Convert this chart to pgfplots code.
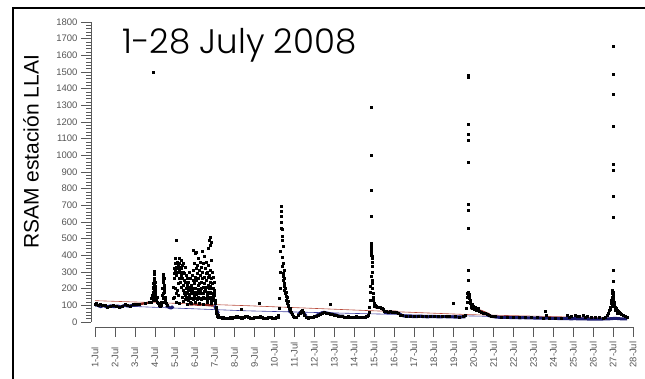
\documentclass[border=0pt]{standalone}
\usepackage{pgfplots}
\pgfplotsset{compat=1.18}
\usepackage{fontspec}
\setmainfont{Liberation Sans}
\newfontfamily\titlefont{Poppins Light}
\definecolor{navyd}{RGB}{25,25,110}
\definecolor{redd}{RGB}{140,35,30}
\definecolor{trendred}{RGB}{185,75,60}
\definecolor{trendblue}{RGB}{60,60,160}
\definecolor{tickgray}{RGB}{85,85,85}
\begin{document}
\begin{tikzpicture}
\path[use as bounding box] (0pt,0pt) rectangle (645pt,379pt);
\draw[line width=2.5pt] (13pt,-2pt) -- (13pt,371pt) -- (648pt,371pt);
\node[anchor=base west, font=\titlefont\fontsize{34}{38}\selectfont, inner sep=0pt] at (122pt,325pt) {1-28 July 2008};
\node[rotate=90, font=\fontsize{21}{24}\selectfont, inner sep=0pt] at (31pt,227pt) {RSAM estación LLAI};
\begin{axis}[
  at={(95pt,57pt)}, anchor=south west, scale only axis,
  width=538pt, height=300pt,
  xmin=0, xmax=27, ymin=0, ymax=1800,
  axis x line=bottom, axis y line=left,
  axis x line shift=5pt, axis y line shift=4pt,
  axis line style={-, black!65, line width=0.5pt},
  tick align=outside, major tick length=10pt, minor tick length=5pt,
  tick style={black!65, line width=0.5pt},
  xtick={0,1,...,27},
  xticklabels={1-Jul,2-Jul,3-Jul,4-Jul,5-Jul,6-Jul,7-Jul,8-Jul,9-Jul,10-Jul,11-Jul,12-Jul,13-Jul,14-Jul,15-Jul,16-Jul,17-Jul,18-Jul,19-Jul,20-Jul,21-Jul,22-Jul,23-Jul,24-Jul,25-Jul,26-Jul,27-Jul,28-Jul},
  xticklabel style={rotate=90, anchor=east, text width=27pt, align=left, font=\fontsize{9.5}{10}\selectfont, text=tickgray},
  ytick={0,100,...,1800}, minor y tick num=4,
  yticklabel style={font=\fontsize{9.5}{10}\selectfont, text=tickgray},
  /pgf/number format/assume math mode=true,
  /pgf/number format/1000 sep={},
  unbounded coords=jump,
  clip=false,
]
% trend lines
\addplot[trendred, line width=0.6pt] coordinates {(0,128) (7.6,98) (16.3,56) (18.85,44) (26.7,22)};
\addplot[trendblue, line width=0.6pt] coordinates {(0,102) (7.6,67) (16.3,42) (26.7,18)};
% navy baseline series
\addplot[navyd, line width=3pt, line join=round] coordinates {
(0.0,98)(0.1,104)(0.2,96)(0.3,92)(0.4,100)(0.5,95)(0.6,90)(0.7,94)(0.8,97)(0.9,93)(1.0,92)(1.1,96)(1.2,94)(1.3,90)(1.4,96)(1.5,100)(1.6,97)(1.7,95)(1.8,98)(1.9,100)(2.0,102)(2.1,101)(2.2,104)(2.3,103)
(2.35,nan)
(3.58,100)(3.65,92)(3.72,88)(3.8,84)(3.86,86)(3.92,95)
(3.95,nan)
(6.0,100)(6.05,85)(6.1,72)(6.15,60)(6.2,50)
(6.25,nan)
(9.7,70)(9.8,62)(9.9,50)
(9.95,nan)
(10.2,45)(10.3,58)(10.4,62)(10.5,50)(10.6,35)
(10.7,nan)
(11.1,38)(11.2,44)(11.3,50)(11.4,56)(11.5,58)(11.6,55)(11.7,52)(11.8,50)(11.9,48)(12.0,45)(12.1,42)(12.2,38)(12.3,35)(12.4,36)(12.5,34)
(12.55,nan)
(14.5,58)(14.7,57)(14.9,58)(15.1,56)(15.25,52)(15.3,48)(15.4,40)(15.5,36)(15.7,34)(15.9,33)(16.1,32)(16.3,34)(16.5,32)(16.7,31)(16.9,33)(17.1,32)(17.3,30)(17.5,32)(17.7,31)(17.9,30)(18.0,30)(18.2,29)(18.4,30)(18.6,32)
(18.65,nan)
(19.7,40)(19.9,34)(20.1,30)(20.3,28)(20.5,27)(20.7,28)(20.9,26)(21.1,27)(21.3,25)(21.5,26)(21.7,24)(21.9,25)(22.1,23)(22.3,24)(22.5,22)(22.7,23)(22.9,21)(23.1,22)(23.3,20)(23.5,21)(23.7,20)(23.9,19)(24.1,20)(24.3,18)(24.5,19)(24.7,18)(24.9,17)(25.1,18)(25.3,17)(25.5,18)(25.7,18)(25.9,20)(26.1,22)(26.3,20)(26.5,18)(26.7,18)
};
% dark red series
\addplot[redd, line width=2.2pt, line join=round] coordinates {
(2.2,106)(2.3,108)(2.4,110)(2.5,112)(2.6,114)(2.7,116)(2.8,118)
(2.85,nan)
(4.6,108)(4.8,105)(5.0,106)(5.2,103)(5.4,105)(5.6,102)(5.8,100)(5.95,98)
(6.0,nan)
(14.05,88)(14.2,86)(14.35,84)(14.45,72)(14.6,63)(14.8,62)(15.0,62)(15.2,60)
(15.25,nan)
(18.85,82)(19.0,78)(19.2,72)(19.4,65)(19.6,55)(19.8,45)
};
% black RSAM points
\addplot[only marks, mark=square*, mark size=1.0pt, black] coordinates {
(0.02,104)(0.08,110)(0.15,100)(0.25,106)(0.35,98)(0.5,102)(0.62,88)(0.75,92)(0.9,98)(1.05,96)(1.2,90)(1.35,94)(1.5,104)(1.62,100)(1.75,96)(1.9,104)(2.05,106)(2.2,108)(2.5,112)(2.7,116)
(2.80,120)(2.84,140)(2.86,160)(2.88,150)(2.90,180)(2.92,200)(2.93,230)(2.94,210)(2.95,190)(2.96,250)(2.97,302)(2.98,288)(2.99,220)(3.00,170)(3.01,200)(3.02,240)(3.03,160)(3.05,140)(3.07,130)(3.10,120)(3.12,150)(3.15,110)(3.20,100)(3.25,96)(3.30,100)(2.93,1500)
(2.91,130)(2.95,145)(2.97,175)(3.00,215)(3.02,185)(3.04,200)(2.99,260)
(3.33,120)(3.36,160)(3.38,200)(3.40,250)(3.42,288)(3.43,270)(3.44,240)(3.45,220)(3.46,200)(3.47,262)(3.48,180)(3.50,150)(3.52,130)(3.55,110)(3.60,100)(3.41,140)(3.43,175)(3.45,150)(3.47,190)(3.44,120)
(3.92,140)(3.93,210)(3.95,260)(3.96,320)(3.98,290)(3.99,150)(4.00,350)(4.02,200)(4.03,310)(4.04,380)(4.06,170)(4.07,330)(4.08,280)(4.10,488)(4.11,300)(4.12,360)(4.14,190)(4.15,320)(4.17,230)(4.18,340)(4.20,160)(4.21,380)(4.22,310)(4.24,260)(4.25,350)(4.27,300)(4.28,240)(4.29,330)(4.31,280)(4.32,370)(4.34,210)(4.35,320)(4.37,150)(4.38,260)(4.39,340)(4.41,300)(4.42,190)(4.44,350)(4.45,220)(4.47,170)(4.48,250)(4.49,290)(4.52,330)(4.54,240)(4.56,180)(4.58,280)(4.60,140)(4.62,220)(4.64,260)(4.66,130)(4.68,190)(4.70,240)(4.72,150)(4.74,300)(4.76,200)(4.78,120)(4.80,260)(4.82,170)(4.84,220)(4.86,140)(4.88,280)(4.90,190)(4.92,250)(4.93,432)(4.94,310)(4.96,160)(4.98,230)(5.00,350)(5.02,270)(5.03,412)(5.04,200)(5.06,320)(5.08,250)(5.10,416)(5.11,180)(5.12,290)(5.14,340)(5.16,382)(5.17,220)(5.18,260)(5.20,150)(5.22,310)(5.24,230)(5.26,360)(5.28,190)(5.30,280)(5.32,240)(5.34,330)(5.36,170)(5.38,422)(5.39,260)(5.40,300)(5.42,210)(5.44,350)(5.46,140)(5.47,392)(5.48,270)(5.50,230)(5.52,320)(5.54,190)(5.56,290)(5.58,250)(5.60,360)(5.62,160)(5.64,300)(5.66,220)(5.68,270)(5.69,442)(5.70,340)(5.72,200)(5.74,492)(5.75,280)(5.76,240)(5.77,462)(5.78,310)(5.80,180)(5.80,506)(5.82,370)(5.84,478)(5.85,260)(5.86,230)(5.88,300)(5.90,200)(5.92,270)(5.94,150)(5.96,240)(5.98,190)(6.00,160)(6.02,130)(6.04,110)(6.06,90)(6.08,70)(6.10,55)(6.12,45)(6.14,35)
(4.05,120)(4.25,110)(4.45,125)(4.65,105)(4.85,115)(5.05,118)(5.25,112)(5.45,108)(5.65,120)(5.85,110)
(4.51,160)(4.55,135)(4.59,200)(4.63,170)(4.67,150)(4.71,210)(4.75,165)(4.79,145)(4.83,190)(4.87,175)(4.91,135)(4.95,205)(4.99,180)(5.01,140)(5.07,165)(5.13,135)(5.19,195)(5.21,175)(5.27,145)(5.31,205)(5.35,135)(5.41,170)(5.43,150)(5.49,185)(5.53,140)(5.57,210)(5.61,130)(5.63,180)(5.67,150)(5.71,170)(5.73,140)(5.79,215)(5.81,150)(5.83,130)(5.87,175)(5.89,145)(5.91,160)(5.93,205)(5.95,130)(5.97,170)
(6.16,30)(6.2,40)(6.3,30)(6.4,22)(6.5,24)(6.6,20)(6.7,24)(6.8,26)(6.9,22)(7.0,28)(7.1,34)(7.2,30)(7.3,26)(7.36,78)(7.4,24)(7.5,30)(7.6,36)(7.7,28)(7.8,24)(7.9,22)(8.0,26)(8.1,30)(8.2,28)(8.25,110)(8.3,32)(8.4,26)(8.5,24)(8.6,22)(8.7,26)(8.8,28)(8.9,24)(9.0,22)(9.1,26)(9.2,30)
(6.45,26)(6.55,22)(6.65,23)(6.75,25)(6.85,24)(6.95,26)(7.05,30)(7.15,32)(7.25,28)(7.35,25)(7.45,27)(7.55,33)(7.65,32)(7.75,26)(7.85,23)(7.95,24)(8.05,28)(8.15,29)(8.35,29)(8.45,25)(8.55,23)(8.65,24)(8.75,27)(8.85,26)(8.95,23)(9.05,24)(9.15,28)
(9.20,40)(9.24,80)(9.26,140)(9.28,200)(9.30,300)(9.31,422)(9.32,560)(9.33,692)(9.34,662)(9.35,632)(9.36,596)(9.37,512)(9.38,556)(9.39,492)(9.40,388)(9.41,332)(9.42,452)(9.43,292)(9.44,272)(9.45,350)(9.46,252)(9.47,310)(9.48,212)(9.49,230)(9.50,192)(9.52,260)(9.54,172)(9.56,200)(9.58,152)(9.60,180)(9.62,132)(9.64,150)(9.66,112)(9.68,125)(9.70,100)(9.72,92)(9.75,85)(9.78,80)(9.82,72)(9.86,60)(9.90,45)(9.95,35)(10.0,30)
(10.1,28)(10.2,40)(10.3,55)(10.35,65)(10.4,72)(10.45,60)(10.5,40)(10.6,28)(10.7,25)(10.8,30)(10.9,28)(11.0,32)(11.1,35)(11.2,40)(11.3,48)(11.4,55)(11.5,58)(11.6,52)(11.7,50)(11.8,108)(11.8,48)(11.9,45)(12.0,42)(12.1,40)(12.2,36)(12.3,32)(12.4,35)(12.5,30)(12.6,28)(12.7,32)(12.8,30)(12.9,28)(13.0,30)(13.1,32)(13.2,28)(13.3,26)(13.4,30)(13.5,28)(13.6,32)(13.7,40)
(10.75,27)(10.85,29)(10.95,30)(12.55,29)(12.65,30)(12.75,31)(12.85,29)(12.95,29)(13.05,31)(13.15,30)(13.25,27)(13.35,28)(13.45,29)(13.55,30)(13.65,34)
(13.75,60)(13.78,90)(13.80,130)(13.82,180)(13.83,212)(13.84,272)(13.85,1290)(13.85,1002)(13.85,792)(13.86,636)(13.86,474)(13.87,460)(13.87,445)(13.88,430)(13.88,410)(13.89,392)(13.89,384)(13.90,332)(13.91,300)(13.92,250)(13.93,200)(13.94,170)(13.95,150)(13.97,130)(14.0,110)(14.03,95)(14.06,100)
(13.87,420)(13.88,400)(13.86,455)(13.89,360)(13.92,230)
(14.1,92)(14.15,88)(14.2,90)(14.25,86)(14.3,88)(14.35,85)(14.4,82)(14.45,75)
(14.5,65)(14.6,62)(14.7,60)(14.8,62)(14.9,58)(15.0,60)(15.1,56)(15.2,50)(15.3,40)
(15.4,38)(15.6,36)(15.8,34)(16.0,35)(16.2,36)(16.4,34)(16.6,33)(16.8,35)(17.0,34)(17.2,32)(17.4,34)(17.6,33)(17.8,32)(18.0,112)(18.1,32)(18.3,30)(18.5,33)
(18.60,40)(18.65,80)(18.68,150)(18.70,170)(18.72,1468)(18.72,1478)(18.73,1186)(18.73,1128)(18.73,1092)(18.73,956)(18.73,708)(18.73,672)(18.74,562)(18.74,312)(18.72,252)(18.75,160)(18.76,140)(18.78,120)(18.80,150)(18.82,110)(18.85,130)(18.88,100)(18.90,90)(18.95,85)(19.0,80)(19.05,75)(19.1,78)(19.15,70)(19.2,68)(19.3,65)(19.4,60)(19.5,55)(19.6,50)(19.7,45)(19.8,40)(19.9,35)(20.0,32)
(18.70,120)(18.74,180)(18.76,165)(18.78,145)(18.84,115)(18.92,105)(19.0,95)(19.1,90)(19.25,82)
(20.1,32)(20.4,30)(20.7,30)(21.0,28)(21.3,28)(21.6,27)(21.9,26)(22.2,26)(22.5,25)(22.6,62)(22.65,42)(22.8,24)(23.1,24)(23.4,23)(23.7,38)(23.8,30)(23.9,35)(24.1,40)(24.2,32)(24.3,36)(24.5,38)(24.6,30)(24.7,34)(24.9,30)(25.1,28)(25.3,26)(25.5,25)
(25.6,30)(25.7,40)(25.75,55)(25.8,70)(25.85,90)(25.9,110)(25.92,130)(25.95,150)(25.97,170)(25.98,192)(26.0,1652)(26.0,1486)(26.0,1366)(26.0,1174)(26.0,944)(26.0,908)(26.0,756)(26.0,628)(26.0,312)(26.0,242)(26.01,180)(26.02,162)(26.03,140)(26.05,120)(26.08,100)(26.1,90)(26.15,80)(26.2,70)(26.25,65)(26.3,58)(26.35,52)(26.4,45)(26.5,40)(26.6,35)(26.7,30)
(25.88,75)(25.94,95)(25.99,130)(26.0,160)(26.04,110)(26.12,70)(26.22,55)
};
\end{axis}
\end{tikzpicture}
\end{document}
